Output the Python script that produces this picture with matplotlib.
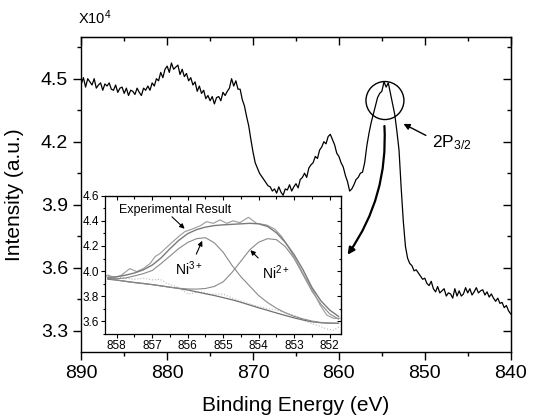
import numpy as np
import matplotlib
matplotlib.use("Agg")
import matplotlib.pyplot as plt
from matplotlib.patches import Ellipse, FancyArrowPatch
from matplotlib.ticker import MultipleLocator

plt.rcParams['font.family'] = ['Liberation Sans', 'DejaVu Sans']
plt.rcParams['mathtext.fontset'] = 'custom'
plt.rcParams['mathtext.rm'] = 'Liberation Sans'
plt.rcParams['mathtext.default'] = 'regular'

# ---------------- main spectrum (x10^4), 890 -> 840 eV, step 0.25 eV ----------------
intensity = [
    4.475, 4.505, 4.46, 4.50,    # 890
    4.485, 4.47, 4.50, 4.455,    # 889
    4.47, 4.48, 4.445, 4.475,    # 888
    4.465, 4.48, 4.45, 4.445,    # 887
    4.47, 4.435, 4.455, 4.46,    # 886
    4.43, 4.455, 4.42, 4.445,    # 885
    4.44, 4.425, 4.455, 4.435,   # 884
    4.42, 4.455, 4.445, 4.465,   # 883
    4.445, 4.48, 4.465, 4.50,    # 882
    4.49, 4.53, 4.505, 4.545,    # 881
    4.56, 4.53, 4.575, 4.545,    # 880
    4.555, 4.565, 4.52, 4.545,   # 879
    4.51, 4.525, 4.49, 4.505,    # 878
    4.47, 4.485, 4.44, 4.465,    # 877
    4.43, 4.445, 4.405, 4.42,    # 876
    4.395, 4.415, 4.38, 4.41,    # 875
    4.415, 4.395, 4.435, 4.42,   # 874
    4.44, 4.455, 4.50, 4.465,    # 873
    4.49, 4.45, 4.45, 4.40,      # 872
    4.37, 4.32, 4.275, 4.21,     # 871
    4.15, 4.10, 4.075, 4.05,     # 870
    4.035, 4.02, 4.005, 3.99,    # 869
    3.985, 3.965, 3.975, 3.955,  # 868
    3.985, 3.96, 3.945, 3.975,   # 867
    3.97, 3.995, 3.965, 3.985,   # 866
    4.00, 3.98, 4.02, 4.03,      # 865
    4.05, 4.03, 4.075, 4.09,     # 864
    4.10, 4.13, 4.12, 4.16,      # 863
    4.175, 4.20, 4.19, 4.225,    # 862
    4.235, 4.21, 4.185, 4.145,   # 861
    4.13, 4.10, 4.08, 4.04,      # 860
    4.01, 3.965, 3.975, 3.995,   # 859
    4.02, 4.03, 4.05, 4.055,     # 858
    4.10, 4.18, 4.24, 4.29,      # 857
    4.33, 4.37, 4.41, 4.43,      # 856
    4.44, 4.485, 4.46, 4.48,     # 855
    4.43, 4.38, 4.33, 4.25,      # 854
    4.16, 3.98, 3.82, 3.70,      # 853
    3.645, 3.62, 3.61, 3.585,    # 852
    3.59, 3.575, 3.56, 3.545,    # 851
    3.55, 3.525, 3.515, 3.535,   # 850
    3.50, 3.485, 3.51, 3.48,     # 849
    3.49, 3.50, 3.465, 3.48,     # 848
    3.475, 3.455, 3.50, 3.465,   # 847
    3.49, 3.465, 3.475, 3.505,   # 846
    3.48, 3.50, 3.47, 3.485,     # 845
    3.505, 3.48, 3.49, 3.495,    # 844
    3.47, 3.485, 3.46, 3.475,    # 843
    3.455, 3.44, 3.455, 3.43,    # 842
    3.435, 3.41, 3.42, 3.395,    # 841
    3.38,                        # 840
]
energy = np.linspace(890, 840, len(intensity))

# ---------------- inset: fitted curves ----------------
fit_E = [858.25, 858.0, 857.75, 857.5, 857.25, 857.0, 856.75, 856.5, 856.25,
         856.0, 855.75, 855.5, 855.25, 855.0, 854.75, 854.5, 854.25, 854.0,
         853.75, 853.5, 853.25, 853.0, 852.75, 852.5, 852.25, 852.0, 851.75]
background = [3.936, 3.928, 3.919, 3.910, 3.902, 3.893, 3.883, 3.872, 3.862,
              3.850, 3.835, 3.820, 3.806, 3.789, 3.772, 3.752, 3.730, 3.708,
              3.688, 3.667, 3.647, 3.628, 3.611, 3.597, 3.589, 3.586, 3.585]
ni3 = [3.943, 3.940, 3.945, 3.962, 3.980, 4.005, 4.060, 4.120, 4.180,
       4.228, 4.258, 4.266, 4.225, 4.150, 4.045, 3.955, 3.880, 3.805,
       3.750, 3.705, 3.668, 3.640, 3.620, 3.603, 3.592, 3.587, 3.585]
ni2 = [3.943, 3.930, 3.918, 3.908, 3.900, 3.892, 3.882, 3.872, 3.864,
       3.858, 3.857, 3.862, 3.878, 3.915, 3.990, 4.080, 4.170, 4.230,
       4.258, 4.250, 4.195, 4.100, 3.970, 3.840, 3.738, 3.660, 3.618]
envelope = [3.950, 3.955, 3.968, 3.985, 4.010, 4.048, 4.105, 4.178, 4.245,
            4.298, 4.330, 4.350, 4.362, 4.368, 4.372, 4.376, 4.380, 4.376,
            4.355, 4.305, 4.228, 4.130, 4.010, 3.870, 3.765, 3.690, 3.640]

exp_E = [858.30, 858.24, 858.10, 857.90, 857.63, 857.44, 857.25, 857.06, 856.92,
         856.78, 856.59, 856.45, 856.26, 856.08, 855.89, 855.65, 855.47, 855.28,
         855.09, 854.90, 854.72, 854.53, 854.29, 854.06, 853.78, 853.54, 853.35,
         853.17, 852.93, 852.70, 852.46, 852.27, 852.08, 851.90, 851.71]
exp_I = [3.960, 3.969, 3.951, 3.961, 4.020, 3.996, 4.020, 4.060, 4.115,
         4.140, 4.190, 4.226, 4.274, 4.314, 4.333, 4.360, 4.393, 4.380,
         4.407, 4.380, 4.400, 4.385, 4.428, 4.380, 4.367, 4.333, 4.274,
         4.195, 4.075, 3.956, 3.837, 3.730, 3.650, 3.625, 3.625]

res_E = [858.24, 857.90, 857.53, 857.25, 856.97, 856.78, 856.59, 856.31, 855.98,
         855.65, 855.37, 855.00, 854.72, 854.44, 854.15, 853.78, 853.50, 853.22,
         852.93, 852.65, 852.37, 852.08, 851.90, 851.71]
res_I = [3.960, 3.951, 3.935, 3.943, 3.930, 3.935, 3.903, 3.876, 3.817,
         3.836, 3.817, 3.817, 3.783, 3.756, 3.730, 3.703, 3.690, 3.668,
         3.642, 3.597, 3.570, 3.540, 3.530, 3.560]

main_xticks = [890, 880, 870, 860, 850, 840]
main_yticks = [3.3, 3.6, 3.9, 4.2, 4.5]
inset_xticks = [858, 857, 856, 855, 854, 853, 852]
inset_yticks = [3.6, 3.8, 4.0, 4.2, 4.4, 4.6]

# ---------------- figure ----------------
fig = plt.figure(figsize=(5.33, 4.18), dpi=100)
ax = fig.add_axes([0.1525, 0.1586, 0.8056, 0.7536])
ax.plot(energy, intensity, color='black', lw=0.9)
ax.set_xlim(890, 840)
ax.set_ylim(3.2, 4.7)
ax.set_xticks(main_xticks)
ax.set_yticks(main_yticks)
ax.set_yticklabels([f"{v:.1f}" for v in main_yticks])
ax.xaxis.set_minor_locator(MultipleLocator(5))
ax.yaxis.set_minor_locator(MultipleLocator(0.15))
for sp in ax.spines.values():
    sp.set_linewidth(1.0)
ax.tick_params(which='both', direction='out', top=False, right=False, labelsize=14, width=1.0, pad=4)
ax.tick_params(which='major', length=5.5)
ax.tick_params(which='minor', length=3)
# mirrored inward ticks on top and right
axt = ax.secondary_xaxis('top')
axt.set_xticks(main_xticks)
axt.xaxis.set_minor_locator(MultipleLocator(5))
axt.tick_params(which='both', direction='in', labeltop=False, width=1.0)
axt.tick_params(which='major', length=5.5)
axt.tick_params(which='minor', length=3)
axr = ax.secondary_yaxis('right')
axr.set_yticks(main_yticks)
axr.yaxis.set_minor_locator(MultipleLocator(0.15))
axr.tick_params(which='both', direction='in', labelright=False, width=1.0)
axr.tick_params(which='major', length=5.5)
axr.tick_params(which='minor', length=3)

ax.set_xlabel("Binding Energy (eV)", fontsize=15, labelpad=10)
ax.set_ylabel("Intensity (a.u.)", fontsize=15)
ax.yaxis.set_label_coords(-0.133, 0.5)
fig.text(78 / 533, 1 - 23.8 / 418, r"X10$^{4}$", fontsize=10.5, ha='left', va='baseline')

# circle, 2P3/2 label and arrows
ax.add_patch(Ellipse((854.64, 4.396), width=4.42, height=0.181, fill=False,
                     edgecolor='black', lw=1.0, zorder=5))
ax.annotate("", xy=(852.77, 4.291), xytext=(849.59, 4.224),
            arrowprops=dict(arrowstyle='-|>', color='black', lw=1.0, mutation_scale=9))
ax.text(849.2, 4.174, r"2P$_{3/2}$", fontsize=12.5, ha='left', va='baseline')
curved = FancyArrowPatch((854.72, 4.288), (859.18, 3.651),
                         connectionstyle="arc3,rad=-0.18", arrowstyle='-|>',
                         mutation_scale=10, lw=1.6, color='black', zorder=6)
ax.add_patch(curved)

# ---------------- inset ----------------
ins = fig.add_axes([0.197, 0.2010, 0.4422, 0.3309])
ins.set_facecolor('white')
ins.plot(res_E, res_I, color='#b8b8b8', lw=0.8, ls=':')
ins.plot(fit_E, background, color='#707070', lw=0.9)
ins.plot(fit_E, ni3, color='#8a8a8a', lw=0.8)
ins.plot(fit_E, ni2, color='#8a8a8a', lw=0.8)
ins.plot(exp_E, exp_I, color='#9a9a9a', lw=0.8)
ins.plot(fit_E, envelope, color='#7a7a7a', lw=1.0)
ins.set_xlim(858.33, 851.69)
ins.set_ylim(3.5, 4.6)
ins.set_xticks(inset_xticks)
ins.set_yticks(inset_yticks)
ins.set_yticklabels([f"{v:.1f}" for v in inset_yticks])
ins.xaxis.set_minor_locator(MultipleLocator(0.5))
ins.yaxis.set_minor_locator(MultipleLocator(0.1))
for sp in ins.spines.values():
    sp.set_linewidth(0.9)
ins.tick_params(which='both', direction='out', labelsize=8.5, width=0.8, pad=1.5)
ins.tick_params(which='major', length=3)
ins.tick_params(which='minor', length=1.8)
inst = ins.secondary_xaxis('top')
inst.set_xticks(inset_xticks)
inst.xaxis.set_minor_locator(MultipleLocator(0.5))
inst.tick_params(which='both', direction='in', labeltop=False, width=0.8)
inst.tick_params(which='major', length=3)
inst.tick_params(which='minor', length=1.8)
insr = ins.secondary_yaxis('right')
insr.set_yticks(inset_yticks)
insr.yaxis.set_minor_locator(MultipleLocator(0.1))
insr.tick_params(which='both', direction='in', labelright=False, width=0.8)
insr.tick_params(which='major', length=3)
insr.tick_params(which='minor', length=1.8)

ins.text(856.36, 4.486, "Experimental Result", fontsize=9, ha='center', va='center')
ins.annotate("", xy=(856.03, 4.322), xytext=(856.5, 4.447),
             arrowprops=dict(arrowstyle='-|>', color='black', lw=0.8, mutation_scale=7))
ins.text(856.36, 3.969, r"Ni$^{3+}$", fontsize=10, ha='left', va='baseline')
ins.annotate("", xy=(855.56, 4.261), xytext=(855.79, 4.115),
             arrowprops=dict(arrowstyle='-|>', color='black', lw=0.8, mutation_scale=7))
ins.text(853.91, 3.938, r"Ni$^{2+}$", fontsize=10, ha='left', va='baseline')
ins.annotate("", xy=(854.29, 4.182), xytext=(853.96, 4.089),
             arrowprops=dict(arrowstyle='-|>', color='black', lw=0.8, mutation_scale=7))

fig.savefig("out.png", dpi=100)
